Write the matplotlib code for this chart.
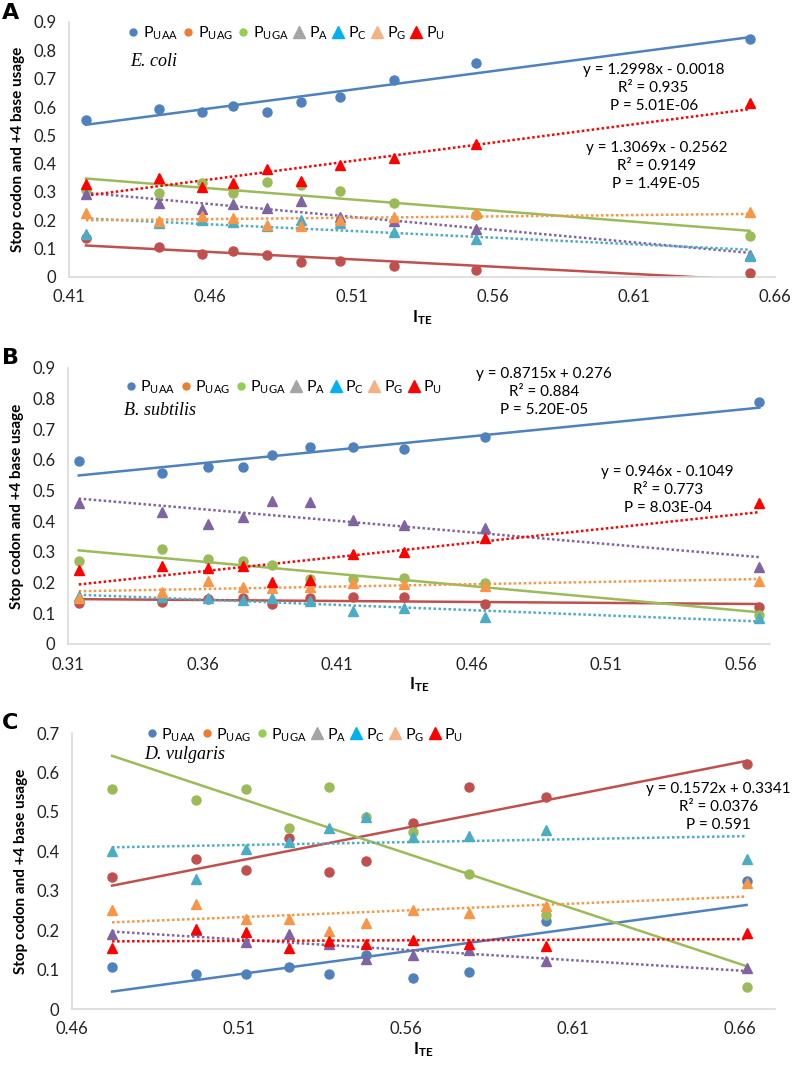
import numpy as np
import matplotlib
matplotlib.use("Agg")
import matplotlib.pyplot as plt
from matplotlib.lines import Line2D
from matplotlib.ticker import FuncFormatter

plt.rcParams['font.family'] = ['Lato', 'DejaVu Sans']
plt.rcParams['mathtext.fontset'] = 'custom'
plt.rcParams['mathtext.rm'] = 'Lato'
plt.rcParams['mathtext.bf'] = 'Lato:bold'

# ---- data ----
a_ite = [0.416, 0.442, 0.457, 0.468, 0.480, 0.492, 0.506, 0.525, 0.554, 0.651]
a_uaa = [0.555, 0.594, 0.583, 0.604, 0.583, 0.618, 0.636, 0.696, 0.756, 0.841]
a_uag = [0.138, 0.106, 0.081, 0.092, 0.078, 0.053, 0.056, 0.039, 0.025, 0.014]
a_uga = [0.307, 0.297, 0.332, 0.297, 0.336, 0.325, 0.304, 0.261, 0.219, 0.145]
a_pa = [0.293, 0.261, 0.240, 0.258, 0.244, 0.269, 0.212, 0.198, 0.170, 0.078]
a_pc = [0.152, 0.191, 0.200, 0.194, 0.180, 0.201, 0.191, 0.159, 0.134, 0.074]
a_pg = [0.226, 0.198, 0.216, 0.208, 0.184, 0.180, 0.201, 0.212, 0.226, 0.230]
a_pu = [0.329, 0.350, 0.318, 0.332, 0.382, 0.339, 0.396, 0.420, 0.470, 0.615]

b_ite = [0.314, 0.345, 0.362, 0.375, 0.386, 0.400, 0.416, 0.435, 0.465, 0.567]
b_uaa = [0.596, 0.557, 0.577, 0.577, 0.616, 0.642, 0.642, 0.635, 0.674, 0.788]
b_uag = [0.134, 0.137, 0.147, 0.150, 0.130, 0.150, 0.153, 0.153, 0.130, 0.121]
b_uga = [0.270, 0.309, 0.277, 0.270, 0.257, 0.212, 0.212, 0.215, 0.199, 0.094]
b_pa = [0.459, 0.430, 0.391, 0.414, 0.466, 0.463, 0.404, 0.388, 0.378, 0.251]
b_pc = [0.155, 0.153, 0.150, 0.143, 0.150, 0.140, 0.107, 0.117, 0.088, 0.085]
b_pg = [0.150, 0.169, 0.205, 0.186, 0.182, 0.186, 0.199, 0.195, 0.189, 0.205]
b_pu = [0.241, 0.254, 0.248, 0.254, 0.202, 0.208, 0.293, 0.300, 0.345, 0.459]

c_ite = [0.472, 0.497, 0.512, 0.525, 0.537, 0.548, 0.562, 0.579, 0.602, 0.662]
c_uaa = [0.107, 0.089, 0.089, 0.107, 0.089, 0.137, 0.079, 0.094, 0.223, 0.325]
c_uag = [0.335, 0.380, 0.353, 0.434, 0.348, 0.376, 0.472, 0.563, 0.538, 0.622]
c_uga = [0.558, 0.530, 0.558, 0.459, 0.563, 0.487, 0.449, 0.343, 0.239, 0.056]
c_pa = [0.190, 0.200, 0.170, 0.190, 0.165, 0.127, 0.137, 0.150, 0.122, 0.104]
c_pc = [0.401, 0.330, 0.406, 0.424, 0.459, 0.487, 0.437, 0.439, 0.454, 0.380]
c_pg = [0.251, 0.266, 0.228, 0.228, 0.198, 0.218, 0.251, 0.244, 0.261, 0.320]
c_pu = [0.155, 0.203, 0.195, 0.155, 0.173, 0.165, 0.175, 0.165, 0.160, 0.193]

legend_labels = [r'P$_{\mathrm{UAA}}$', r'P$_{\mathrm{UAG}}$', r'P$_{\mathrm{UGA}}$',
                 r'P$_{\mathrm{A}}$', r'P$_{\mathrm{C}}$', r'P$_{\mathrm{G}}$', r'P$_{\mathrm{U}}$']

# colours of the plotted points / trendlines, and the (different) legend swatches
series_colors = ['#4F81BD', '#C0504D', '#9BBB59', '#8064A2', '#4BACC6', '#F79646', '#FF0000']
legend_colors = ['#4F81BD', '#ED7D31', '#92D050', '#A5A5A5', '#00B0F0', '#F4B183', '#FF0000']
markers = ['o', 'o', 'o', '^', '^', '^', '^']
line_styles = ['-', '-', '-', (0, (1, 1)), (0, (1, 1)), (0, (1, 1)), (0, (1, 1))]

W, H = 795, 1067
fig = plt.figure(figsize=(W / 100, H / 100), dpi=100)


def px_axes(left, right, top, bottom):
    return fig.add_axes([left / W, 1 - bottom / H, (right - left) / W, (bottom - top) / H])


def panel(ax, x, series, xlim, ylim, xticks, yticks, species, sp_pos, notes, leg_pos):
    for s, col, mk, ls in zip(series, series_colors, markers, line_styles):
        ax.plot(x, s, linestyle='none', marker=mk, color=col,
                markersize=7.5 if mk == '^' else 6.5, zorder=3)
        k, b = np.polyfit(x, s, 1)
        xx = np.array([min(x), max(x)])
        ax.plot(xx, k * xx + b, color=col, linestyle=ls, lw=1.8, zorder=2)
    ax.set_xlim(xlim)
    ax.set_ylim(ylim)
    ax.set_xticks(xticks)
    ax.set_yticks(yticks)
    ax.xaxis.set_major_formatter(FuncFormatter(lambda v, _: f'{v:.2f}'))
    ax.yaxis.set_major_formatter(FuncFormatter(lambda v, _: '0' if abs(v) < 1e-9 else f'{v:.1f}'))
    ax.tick_params(length=0, labelsize=12, colors='#222222', pad=9)
    for sp in ['top', 'right']:
        ax.spines[sp].set_visible(False)
    for sp in ['left', 'bottom']:
        ax.spines[sp].set_color('#D9D9D9')
        ax.spines[sp].set_linewidth(1.2)
    ax.set_ylabel('Stop codon and +4 base usage', fontsize=11, fontweight='bold', labelpad=6)
    ax.set_xlabel(r'$\mathbf{I_{TE}}$', fontsize=12, labelpad=2)
    ax.text(sp_pos[0], sp_pos[1], species, family='Liberation Serif', style='italic', fontsize=13,
            ha='left', va='center')
    for (nx, ny, txt) in notes:
        ax.text(nx, ny, txt, ha='center', va='center', fontsize=11, linespacing=1.35, zorder=4)
    handles = [Line2D([], [], linestyle='none', marker=mk, color=c,
                      markersize=5 if mk == 'o' else 9)
               for mk, c in zip(markers, legend_colors)]
    ax.legend(handles, legend_labels, loc='center left', bbox_to_anchor=leg_pos, ncol=7,
              frameon=False, fontsize=11.5, handlelength=0.8, handletextpad=0.2,
              columnspacing=0.25, borderpad=0, borderaxespad=0)


axA = px_axes(69, 775, 22, 277)
panel(axA, a_ite, [a_uaa, a_uag, a_uga, a_pa, a_pc, a_pg, a_pu],
      (0.41, 0.66), (0, 0.9), np.arange(0.41, 0.661, 0.05), np.arange(0, 0.91, 0.1),
      'E. coli', (0.4317, 0.76),
      [(0.617, 0.668, 'y = 1.2998x - 0.0018\nR² = 0.935\nP = 5.01E-06'),
       (0.618, 0.392, 'y = 1.3069x - 0.2562\nR² = 0.9149\nP = 1.49E-05')],
      (0.082, 0.957))

axB = px_axes(68, 770, 368, 644)
panel(axB, b_ite, [b_uaa, b_uag, b_uga, b_pa, b_pc, b_pg, b_pu],
      (0.31, 0.571), (0, 0.9), np.arange(0.31, 0.561, 0.05), np.arange(0, 0.91, 0.1),
      'B. subtilis', (0.331, 0.762),
      [(0.487, 0.821, 'y = 0.8715x + 0.276\nR² = 0.884\nP = 5.20E-05'),
       (0.533, 0.502, 'y = 0.946x - 0.1049\nR² = 0.773\nP = 8.03E-04')],
      (0.080, 0.931))

axC = px_axes(72, 775, 733, 1009)
panel(axC, c_ite, [c_uaa, c_uag, c_uga, c_pa, c_pc, c_pg, c_pu],
      (0.46, 0.6705), (0, 0.7), np.arange(0.46, 0.661, 0.05), np.arange(0, 0.71, 0.1),
      'D. vulgaris', (0.4816, 0.645),
      [(0.6535, 0.513, 'y = 0.1572x + 0.3341\nR² = 0.0376\nP = 0.591')],
      (0.104, 0.993))

for lbl, ypx in [('A', 13), ('B', 358), ('C', 723)]:
    fig.text(2 / W, 1 - ypx / H, lbl, fontsize=16, fontweight='bold', ha='left', va='center',
             family='DejaVu Sans')

fig.savefig('out.png', dpi=100)
